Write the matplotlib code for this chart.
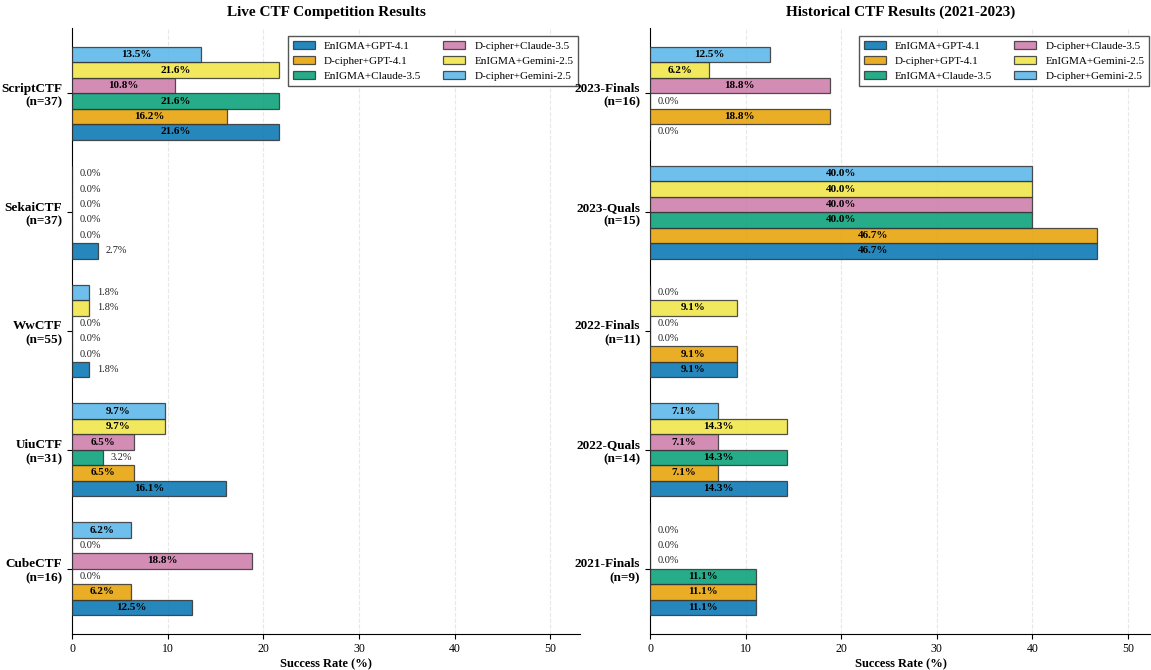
import numpy as np
import matplotlib
matplotlib.use('Agg')
import matplotlib.pyplot as plt

plt.rcParams['font.family'] = ['Liberation Serif', 'DejaVu Serif']

# ---------------- DATA ----------------
series = ['EnIGMA+GPT-4.1', 'D-cipher+GPT-4.1', 'EnIGMA+Claude-3.5',
          'D-cipher+Claude-3.5', 'EnIGMA+Gemini-2.5', 'D-cipher+Gemini-2.5']
colors = ['#0072B2', '#E69F00', '#009E73', '#CC79A7', '#F0E442', '#56B4E9']

live_labels = ['ScriptCTF\n(n=37)', 'SekaiCTF\n(n=37)', 'WwCTF\n(n=55)',
               'UiuCTF\n(n=31)', 'CubeCTF\n(n=16)']
live_vals = [
    [21.6, 16.2, 21.6, 10.8, 21.6, 13.5],
    [2.7, 0.0, 0.0, 0.0, 0.0, 0.0],
    [1.8, 0.0, 0.0, 0.0, 1.8, 1.8],
    [16.1, 6.5, 3.2, 6.5, 9.7, 9.7],
    [12.5, 6.2, 0.0, 18.8, 0.0, 6.2],
]

hist_labels = ['2023-Finals\n(n=16)', '2023-Quals\n(n=15)', '2022-Finals\n(n=11)',
               '2022-Quals\n(n=14)', '2021-Finals\n(n=9)']
hist_vals = [
    [0.0, 18.8, 0.0, 18.8, 6.2, 12.5],
    [46.7, 46.7, 40.0, 40.0, 40.0, 40.0],
    [9.1, 9.1, 0.0, 0.0, 9.1, 0.0],
    [14.3, 7.1, 14.3, 7.1, 14.3, 7.1],
    [11.1, 11.1, 11.1, 0.0, 0.0, 0.0],
]

bar_h = 0.13


def draw_panel(ax, labels, vals, title, xmax):
    vals = np.array(vals)
    n_groups = len(labels)
    y = np.arange(n_groups)[::-1].astype(float)
    offsets = (np.arange(len(series)) - (len(series) - 1) / 2) * bar_h
    for i, name in enumerate(series):
        ypos = y + offsets[i]
        ax.barh(ypos, vals[:, i], height=bar_h, color=colors[i], alpha=0.85,
                edgecolor='#333333', linewidth=0.9, label=name, zorder=3)
        for yy, v in zip(ypos, vals[:, i]):
            if v > 5:
                ax.text(v / 2, yy, f'{v:.1f}%', ha='center', va='center',
                        fontsize=8, fontweight='bold', zorder=4)
            else:
                ax.text(v + 0.8, yy, f'{v:.1f}%', ha='left', va='center',
                        fontsize=7.5, color='#222222', zorder=4)
    ax.set_yticks(y)
    ax.set_yticklabels(labels, fontsize=9.5, fontweight='bold', ha='right')
    ax.set_ylim(-0.55, n_groups - 1 + 0.55)
    ax.set_xlim(0, xmax)
    ax.set_xlabel('Success Rate (%)', fontsize=9, fontweight='bold', labelpad=2)
    ax.set_title(title, fontsize=11, fontweight='bold', pad=8.5)
    ax.grid(axis='x', linestyle='--', alpha=0.3, zorder=0)
    ax.spines['top'].set_visible(False)
    ax.spines['right'].set_visible(False)
    ax.tick_params(axis='x', labelsize=8.5, pad=3)
    leg = ax.legend(loc='upper right', bbox_to_anchor=(1.0, 0.99), ncol=2,
                    fontsize=8, fancybox=False, edgecolor='#555555',
                    framealpha=1, borderaxespad=0.2)
    leg.get_frame().set_linewidth(1.0)


fig = plt.figure(figsize=(11.51, 6.70), dpi=100)
ax1 = fig.add_axes([72 / 1151, 36 / 670, 508 / 1151, 606 / 670])
ax2 = fig.add_axes([650 / 1151, 36 / 670, 501 / 1151, 606 / 670])
draw_panel(ax1, live_labels, live_vals, 'Live CTF Competition Results', 53.1)
draw_panel(ax2, hist_labels, hist_vals, 'Historical CTF Results (2021-2023)', 52.4)
plt.savefig('out.png', dpi=100)
